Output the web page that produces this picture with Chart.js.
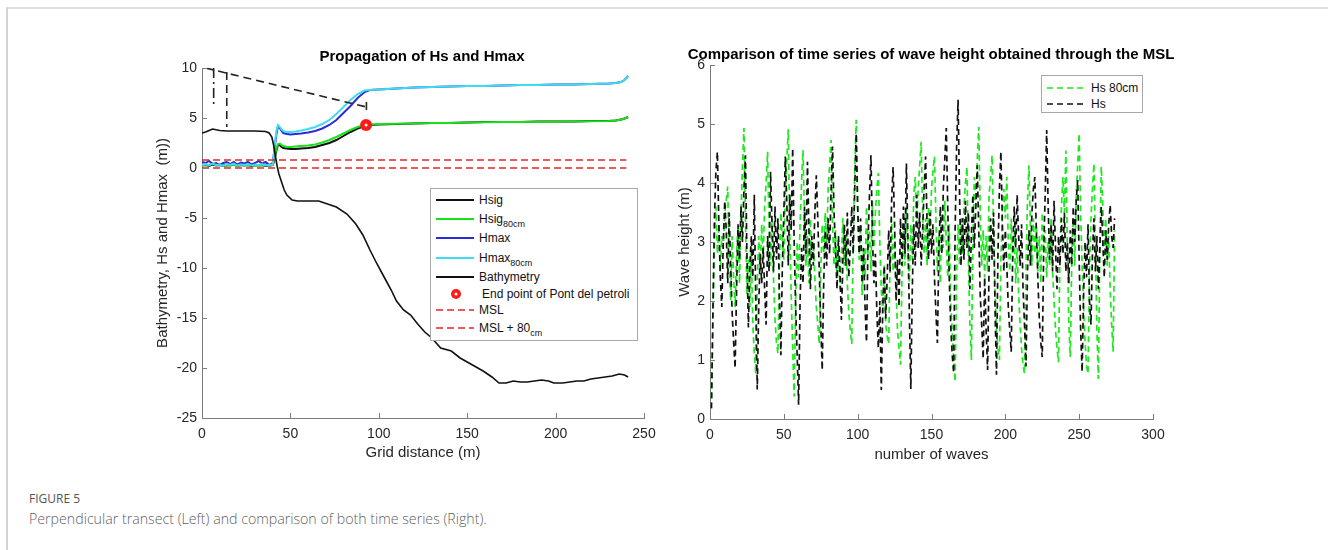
<!DOCTYPE html>
<html>
<head>
<meta charset="utf-8">
<script src="https://cdn.jsdelivr.net/npm/chart.js@4.4.1/dist/chart.umd.min.js"></script>
<style>
  body { margin: 0; background: #fff; width: 1328px; height: 550px; overflow: hidden; position: relative; font-family: "Liberation Sans", Arial, sans-serif; }
  .frame { position: absolute; left: 6px; top: 7px; right: -10px; bottom: -10px; border-top: 2px solid #dedede; border-left: 2px solid #d4d4d4; }
  canvas { position: absolute; }
  #left { left: 140px; top: 30px; }
  #right { left: 662px; top: 30px; }
  .legend { position: absolute; background: #fff; border: 1px solid #a8a8a8; font-size: 12px; color: #111; box-sizing: border-box; }
  .legend .row { position: absolute; left: 0; right: 0; height: 16px; line-height: 16px; white-space: nowrap; }
  .legend svg { position: absolute; left: 0; top: 0; }
  .legend span { position: absolute; top: 0; }
  .legend sub { font-size: 9px; vertical-align: -4px; line-height: 0; }
  .fig-num { position: absolute; left: 29px; top: 490px; font-family: "Open Sans", sans-serif; font-size: 12px; color: #555; }
  .fig-cap { position: absolute; left: 29px; top: 509px; font-family: "Open Sans", sans-serif; font-weight: 300; font-size: 14.2px; color: #5f5f5f; }
</style>
</head>
<body>
<div class="frame"></div>
<canvas id="left" width="564" height="440"></canvas>
<canvas id="right" width="538" height="440"></canvas>
<div class="legend" id="leftLegend" style="left:430px; top:188px; width:208px; height:153px;"></div>
<div class="legend" id="rightLegend" style="left:1041px; top:75px; width:102px; height:38px;"></div>
<div class="fig-num">FIGURE 5</div>
<div class="fig-cap">Perpendicular transect (Left) and comparison of both time series (Right).</div>
<script>
// =========================
// ======= DATA (left) ======
//==========================

// grid distance (m) for the wave height curves
const gridX = [0, 2, 4, 6, 8, 10, 12, 14, 16, 18,
  20, 22, 24, 26, 28, 30, 32, 34, 36, 38,
  40, 41, 42, 43, 44, 45, 46, 48, 50, 53,
  56, 60, 64, 68, 72, 76, 80, 84, 88, 92,
  95, 100, 110, 120, 130, 140, 150, 160, 170, 180,
  190, 200, 210, 220, 230, 234, 237, 239, 241];

const hsig = [0.25, 0.3, 0.2, 0.35, 0.25, 0.3, 0.2, 0.3, 0.25, 0.35,
  0.2, 0.3, 0.25, 0.3, 0.2, 0.3, 0.25, 0.3, 0.2, 0.25,
  0.3, 0.8, 1.7, 2.3, 2.3, 2.1, 2.0, 1.95, 1.9, 1.9,
  1.95, 2.0, 2.1, 2.3, 2.5, 2.8, 3.2, 3.6, 3.95, 4.2,
  4.3, 4.35, 4.4, 4.45, 4.5, 4.5, 4.55, 4.6, 4.6, 4.6,
  4.65, 4.65, 4.65, 4.7, 4.7, 4.75, 4.85, 4.95, 5.1];

const hsig80 = [0.2, 0.35, 0.3, 0.45, 0.25, 0.4, 0.3, 0.2, 0.35, 0.3,
  0.2, 0.4, 0.3, 0.25, 0.35, 0.2, 0.3, 0.25, 0.35, 0.2,
  0.3, 1.0, 1.9, 2.4, 2.45, 2.3, 2.2, 2.1, 2.1, 2.15,
  2.2, 2.25, 2.35, 2.55, 2.8, 3.1, 3.45, 3.8, 4.1, 4.3,
  4.35, 4.4, 4.42, 4.45, 4.5, 4.5, 4.55, 4.57, 4.6, 4.6,
  4.62, 4.63, 4.65, 4.68, 4.7, 4.75, 4.85, 4.95, 5.1];

const hmax = [0.6, 0.5, 0.7, 0.4, 0.5, 0.3, 0.5, 0.6, 0.4, 0.6,
  0.35, 0.55, 0.45, 0.6, 0.35, 0.5, 0.7, 0.45, 0.6, 0.3,
  0.5, 1.8, 3.3, 4.2, 4.0, 3.7, 3.5, 3.4, 3.35, 3.4,
  3.45, 3.55, 3.7, 3.95, 4.3, 4.8, 5.5, 6.2, 7.0, 7.6,
  7.8, 7.85, 7.95, 8.05, 8.1, 8.15, 8.2, 8.2, 8.25, 8.3,
  8.3, 8.35, 8.35, 8.4, 8.45, 8.5, 8.6, 8.8, 9.2];

const hmax80 = [0.3, 0.4, 0.25, 0.45, 0.3, 0.35, 0.2, 0.4, 0.3, 0.45,
  0.25, 0.35, 0.3, 0.4, 0.25, 0.35, 0.3, 0.4, 0.25, 0.3,
  0.35, 2.0, 3.6, 4.3, 4.1, 3.85, 3.7, 3.6, 3.6, 3.65,
  3.75, 3.9, 4.1, 4.4, 4.8, 5.4, 6.1, 6.8, 7.4, 7.75,
  7.8, 7.85, 7.95, 8.05, 8.1, 8.15, 8.2, 8.2, 8.25, 8.3,
  8.3, 8.35, 8.35, 8.4, 8.45, 8.5, 8.6, 8.8, 9.2];

const bathyX = [0, 2, 6, 10, 14, 20, 30, 36, 38, 39.5,
  40.5, 41.5, 42.5, 43.5, 45, 46.5, 48, 51, 54, 60,
  66, 71, 76, 82, 87, 91, 95, 99, 103, 107,
  110, 114, 118, 122, 126, 130, 135, 141, 146, 152,
  159, 164, 168, 172, 176, 180, 184, 188, 192, 196,
  199, 204, 208, 212, 216, 220, 224, 228, 232, 236,
  239, 241];

const bathy = [3.5, 3.6, 3.9, 3.75, 3.7, 3.7, 3.7, 3.65, 3.5, 3.1,
  2.3, 1.2, 0.2, -0.6, -1.4, -2.2, -2.7, -3.2, -3.3, -3.3,
  -3.3, -3.6, -3.9, -4.6, -5.6, -6.7, -8.2, -9.6, -10.9, -12.2,
  -13.3, -14.2, -14.7, -15.6, -16.4, -17.0, -18.0, -18.3, -19.0, -19.6,
  -20.3, -20.9, -21.5, -21.5, -21.3, -21.4, -21.4, -21.3, -21.2, -21.3,
  -21.5, -21.5, -21.4, -21.3, -21.3, -21.1, -21.0, -20.9, -20.8, -20.6,
  -20.7, -20.9];

// end point of Pont del petroli
const pontX = [92.8];
const pontY = [4.3];

// sea levels: MSL and MSL + 80 cm
const levelX = [0, 240];
const msl = [0, 0];
const msl80 = [0.8, 0.8];

// black dashed guide lines in the upper left corner
const slopeX = [2, 93];
const slopeY = [10, 6.1];
const endTickX = [93, 93];
const endTickY = [6.6, 5.5];
const guide1X = [6.6, 6.6];
const guide1Y = [10, 6.0];
const guide2X = [14, 14];
const guide2Y = [9.6, 4.1];

const leftXTicks = { min: 0, max: 250, step: 50 };
const leftYTicks = { min: -25, max: 10, step: 5 };

// =========================
// ======= DATA (right) =====
//==========================

const waveHs80 = [0.35, 1.6, 3.0, 3.6, 2.8, 3.3, 2.5, 3.1, 2.9, 3.5,
  3.7, 3.94, 2.6, 2.0, 3.1, 2.4, 1.9, 2.8, 3.3, 2.3,
  3.5, 4.3, 4.93, 3.4, 2.1, 2.7, 1.9, 2.9, 1.6, 1.1,
  0.77, 2.3, 3.1, 2.5, 3.3, 2.7, 3.6, 4.0, 4.53, 3.2,
  2.6, 3.4, 2.4, 1.7, 1.3, 1.11, 2.6, 3.5, 3.0, 2.7,
  3.8, 4.4, 4.91, 3.2, 2.1, 1.2, 0.38, 2.0, 3.0, 2.4,
  3.3, 4.0, 4.56, 3.4, 2.6, 3.1, 2.3, 3.4, 2.7, 3.0,
  2.4, 1.9, 1.6, 1.27, 2.5, 3.3, 2.8, 3.5, 2.9, 3.9,
  4.3, 4.73, 3.3, 2.6, 3.2, 2.4, 3.0, 2.2, 2.8, 3.4,
  2.6, 3.1, 2.3, 1.8, 1.5, 1.27, 3.1, 4.2, 5.07, 3.6,
  2.7, 3.3, 2.1, 2.9, 2.4, 3.6, 2.8, 3.2, 2.5, 3.7,
  2.9, 3.5, 3.9, 4.17, 3.0, 2.2, 1.8, 2.6, 1.6, 1.4,
  1.27, 2.8, 3.4, 2.5, 3.1, 2.2, 1.5, 1.2, 0.92, 2.4,
  3.2, 2.6, 3.6, 2.9, 2.3, 3.3, 2.7, 3.8, 4.1, 3.3,
  3.9, 4.3, 4.7, 3.5, 2.8, 3.4, 2.6, 3.6, 3.0, 3.9,
  4.2, 4.45, 3.4, 2.5, 3.1, 2.3, 3.5, 2.9, 3.7, 3.0,
  2.4, 3.3, 2.0, 1.5, 1.0, 0.63, 2.4, 3.3, 2.6, 3.4,
  2.8, 3.6, 4.0, 4.27, 2.7, 1.6, 1.0, 2.9, 4.1, 3.6,
  4.4, 4.95, 3.5, 2.6, 3.2, 2.4, 3.1, 2.5, 3.8, 4.1,
  4.47, 3.3, 2.2, 1.5, 1.2, 1.0, 2.7, 3.5, 3.9, 3.4,
  4.1, 3.0, 2.5, 3.4, 2.7, 3.2, 2.3, 2.9, 2.1, 1.6,
  1.2, 0.9, 0.77, 2.6, 3.7, 4.3, 3.2, 2.6, 3.4, 2.8,
  3.3, 2.5, 3.1, 2.3, 3.5, 2.8, 3.2, 2.4, 3.0, 2.6,
  3.4, 2.5, 2.0, 1.5, 1.2, 0.96, 2.8, 3.6, 4.1, 3.5,
  4.55, 2.9, 1.6, 1.05, 2.7, 3.4, 2.6, 3.8, 4.3, 4.84,
  3.5, 2.6, 1.9, 1.3, 0.9, 0.77, 2.5, 3.4, 3.9, 4.33,
  3.0, 1.5, 0.68, 2.9, 4.28, 3.6, 2.9, 3.4, 2.6, 3.1,
  2.2, 1.6, 1.14, 3.2];

const waveHs = [0.18, 1.9, 3.4, 4.2, 4.53, 3.3, 2.4, 1.9, 3.0, 3.7,
  3.2, 2.3, 3.5, 2.6, 1.8, 1.3, 0.86, 2.2, 3.3, 2.7,
  3.6, 3.0, 3.9, 4.47, 2.8, 1.55, 2.6, 3.1, 2.4, 3.8,
  2.0, 0.5, 1.9, 2.8, 2.3, 2.9, 2.2, 1.6, 3.1, 2.5,
  4.19, 3.3, 2.5, 3.6, 2.7, 3.4, 2.1, 1.08, 2.6, 3.5,
  4.45, 3.7, 2.6, 3.8, 3.2, 4.59, 3.0, 1.9, 1.1, 0.24,
  2.0, 2.9, 2.3, 3.6, 2.8, 4.36, 3.2, 2.2, 3.1, 2.6,
  3.5, 4.13, 3.4, 2.5, 1.6, 0.83, 2.3, 3.2, 2.6, 3.4,
  2.8, 3.9, 4.62, 3.5, 2.9, 2.2, 3.1, 2.5, 1.68, 2.7,
  3.3, 2.6, 3.5, 2.4, 2.9, 3.6, 2.8, 3.9, 4.84, 3.6,
  2.8, 3.4, 2.3, 2.9, 1.9, 1.3, 3.0, 3.8, 4.47, 3.1,
  2.3, 2.8, 1.8, 1.2, 2.0, 0.49, 1.9, 2.6, 1.7, 2.4,
  3.2, 2.5, 3.7, 4.27, 3.3, 2.0, 2.7, 1.9, 3.4, 2.6,
  3.6, 2.8, 4.33, 3.1, 1.8, 0.51, 2.2, 3.3, 2.6, 3.8,
  2.9, 3.5, 2.6, 3.2, 3.9, 4.45, 3.3, 2.7, 3.5, 2.8,
  3.3, 2.4, 1.8, 1.29, 2.9, 3.6, 2.8, 3.9, 4.4, 4.93,
  3.6, 2.4, 1.6, 1.1, 0.78, 3.2, 4.6, 5.41, 3.8, 2.6,
  3.4, 2.7, 3.7, 2.9, 3.5, 2.2, 3.1, 3.8, 2.9, 3.6,
  4.3, 3.2, 2.1, 1.6, 1.02, 2.4, 1.5, 0.83, 2.6, 3.4,
  2.7, 3.5, 1.9, 0.75, 2.8, 3.9, 4.53, 3.3, 2.5, 3.2,
  2.6, 1.9, 1.5, 1.14, 2.8, 3.6, 2.9, 3.8, 3.1, 2.6,
  3.3, 2.2, 1.6, 0.89, 2.5, 3.2, 2.6, 3.5, 3.9, 4.1,
  3.2, 2.4, 1.7, 1.3, 1.05, 2.9, 3.8, 4.9, 3.6, 2.7,
  3.3, 2.5, 3.7, 2.9, 2.2, 3.1, 2.6, 3.4, 2.8, 3.5,
  2.5, 3.0, 2.3, 3.2, 2.6, 3.6, 3.0, 3.7, 4.05, 2.7,
  1.5, 0.8, 2.1, 3.0, 2.4, 3.3, 2.0, 1.6, 2.8, 3.4,
  2.5, 3.1, 2.2, 2.9, 3.6, 3.0, 2.4, 3.2, 2.7, 3.3,
  3.63, 3.1, 2.9, 3.4];

const rightXTicks = { min: 0, max: 300, step: 50 };
const rightYTicks = { min: 0, max: 6, step: 1 };

// =========================
// ======= HELPERS ==========
//==========================

const fontFamily = "'Liberation Sans', Arial, Helvetica, sans-serif";
const axisColor = "#7c7c7c";
const tickColor = "#262626";

function toPoints(xs, ys) {
  return xs.map(function(x, i) {
    return { x: x, y: ys[i] };
  });
}

function indexPoints(ys) {
  return ys.map(function(y, i) {
    return { x: i + 1, y: y };
  });
}

function line(data, color, width, dash, order) {
  return {
    data: data,
    borderColor: color,
    backgroundColor: color,
    borderWidth: width,
    borderDash: dash || [],
    pointRadius: 0,
    tension: 0,
    fill: false,
    order: order
  };
}

// MATLAB style tick marks pointing into the plot
const inwardTicks = {
  id: "inwardTicks",
  afterDatasetsDraw(chart) {
    const ctx = chart.ctx;
    const area = chart.chartArea;
    const xs = chart.scales.x;
    const ys = chart.scales.y;
    ctx.save();
    ctx.strokeStyle = axisColor;
    ctx.lineWidth = 1;
    ctx.beginPath();
    xs.ticks.forEach(function(t) {
      const p = Math.round(xs.getPixelForValue(t.value)) + 0.5;
      ctx.moveTo(p, area.bottom);
      ctx.lineTo(p, area.bottom - 5);
    });
    ys.ticks.forEach(function(t) {
      const p = Math.round(ys.getPixelForValue(t.value)) + 0.5;
      ctx.moveTo(area.left, p);
      ctx.lineTo(area.left + 5, p);
    });
    ctx.stroke();
    ctx.restore();
  }
};

function options(cfg) {
  return {
    responsive: false,
    animation: false,
    events: [],
    layout: { padding: 0 },
    plugins: {
      legend: { display: false },
      tooltip: { enabled: false },
      title: {
        display: true,
        text: cfg.title,
        color: "#000",
        font: { family: fontFamily, size: 15, weight: "bold" },
        padding: { top: cfg.titleTop, bottom: cfg.titleBottom }
      }
    },
    scales: {
      x: {
        type: "linear",
        min: cfg.xTicks.min,
        max: cfg.xTicks.max,
        ticks: { stepSize: cfg.xTicks.step, color: tickColor, font: { family: fontFamily, size: 14 }, padding: 8, maxRotation: 0 },
        grid: { display: false, drawTicks: false },
        border: { display: true, color: axisColor, width: 1 },
        title: { display: true, text: cfg.xTitle, color: "#262626", font: { family: fontFamily, size: 15 }, padding: { top: 0, bottom: cfg.xTitlePad } },
        afterFit: function(s) { s.height = cfg.xHeight; }
      },
      y: {
        type: "linear",
        min: cfg.yTicks.min,
        max: cfg.yTicks.max,
        ticks: { stepSize: cfg.yTicks.step, color: tickColor, font: { family: fontFamily, size: 14 }, padding: 5 },
        grid: { display: false, drawTicks: false },
        border: { display: true, color: axisColor, width: 1 },
        title: { display: true, text: cfg.yTitle, color: "#262626", font: { family: fontFamily, size: 15 }, padding: { top: cfg.yTitlePad, bottom: 0 } },
        afterFit: function(s) { s.width = cfg.yWidth; }
      },
      pad: {
        position: "right",
        display: true,
        ticks: { display: false },
        grid: { display: false, drawTicks: false },
        border: { display: false },
        afterFit: function(s) { s.width = cfg.rightWidth; }
      }
    }
  };
}

// =========================
// ======= LEFT CHART =======
//==========================

const red = "#ff1a1a";
const leftDatasets = [
  line(toPoints(gridX, hsig), "#111", 2, null, 9),
  line(toPoints(gridX, hsig80), "#19e019", 2, null, 8),
  line(toPoints(gridX, hmax), "#2b2bd6", 2, null, 7),
  line(toPoints(gridX, hmax80), "#3fdcf0", 2, null, 6),
  line(toPoints(bathyX, bathy), "#111", 1.6, null, 5),
  line(toPoints(levelX, msl), "#e3262b", 1.6, [7, 4], 4),
  line(toPoints(levelX, msl80), "#e3262b", 1.6, [7, 4], 4),
  line(toPoints(slopeX, slopeY), "#222", 1.6, [8, 5], 4),
  line(toPoints(endTickX, endTickY), "#222", 1.6, [8, 5], 4),
  line(toPoints(guide1X, guide1Y), "#222", 1.6, [10, 4, 2, 4], 4),
  line(toPoints(guide2X, guide2Y), "#222", 1.6, [8, 5], 4),
  {
    data: toPoints(pontX, pontY),
    showLine: false,
    pointRadius: 6,
    pointBackgroundColor: red,
    pointBorderWidth: 0,
    order: 1
  },
  {
    data: toPoints(pontX, pontY),
    showLine: false,
    pointRadius: 1.5,
    pointBackgroundColor: "#e9ffe9",
    pointBorderWidth: 0,
    order: 0
  }
];

new Chart(document.getElementById("left"), {
  type: "line",
  data: { datasets: leftDatasets },
  options: options({
    title: "Propagation of Hs and Hmax",
    titleTop: 18, titleBottom: 2,
    xTicks: leftXTicks, yTicks: leftYTicks,
    xTitle: "Grid distance (m)", xTitlePad: 8, xHeight: 52,
    yTitle: "Bathymetry, Hs and Hmax  (m))", yTitlePad: 14, yWidth: 62,
    rightWidth: 60
  }),
  plugins: [inwardTicks]
});

// =========================
// ======= RIGHT CHART ======
//==========================

new Chart(document.getElementById("right"), {
  type: "line",
  data: {
    datasets: [
      line(indexPoints(waveHs80), "#1ee81e", 1.7, [6, 4], 1),
      line(indexPoints(waveHs), "#111", 1.7, [6, 4], 0)
    ]
  },
  options: options({
    title: "Comparison of time series of wave height obtained through the MSL",
    titleTop: 16, titleBottom: 1,
    xTicks: rightXTicks, yTicks: rightYTicks,
    xTitle: "number of waves", xTitlePad: 6, xHeight: 51,
    yTitle: "Wave height (m)", yTitlePad: 14, yWidth: 48,
    rightWidth: 47
  }),
  plugins: [inwardTicks]
});

// =========================
// ======= LEGENDS ==========
//==========================

function buildLegend(el, entries) {
  entries.forEach(function(e) {
    const row = document.createElement("div");
    row.className = "row";
    row.style.top = (e.y - 8) + "px";
    let sample;
    if (e.marker) {
      sample = '<circle cx="' + e.mx + '" cy="8" r="5" fill="' + red + '"/>' +
        '<circle cx="' + e.mx + '" cy="8" r="1.5" fill="#fff"/>';
    } else {
      sample = '<line x1="' + e.x1 + '" y1="8" x2="' + e.x2 + '" y2="8" stroke="' + e.color +
        '" stroke-width="' + (e.w || 2) + '"' + (e.dash ? ' stroke-dasharray="' + e.dash + '"' : "") + "/>";
    }
    row.innerHTML = '<svg width="60" height="16">' + sample + "</svg>" +
      '<span style="left:' + e.tx + 'px">' + e.text + (e.sub ? "<sub>" + e.sub + "</sub>" : "") + "</span>";
    el.appendChild(row);
  });
}

buildLegend(document.getElementById("leftLegend"), [
  { text: "Hsig", color: "#111", x1: 5, x2: 43, tx: 48, y: 11 },
  { text: "Hsig", sub: "80cm", color: "#19e019", x1: 5, x2: 43, tx: 48, y: 29.5 },
  { text: "Hmax", color: "#2b2bd6", x1: 5, x2: 43, tx: 48, y: 49 },
  { text: "Hmax", sub: "80cm", color: "#3fdcf0", x1: 5, x2: 43, tx: 48, y: 68.5 },
  { text: "Bathymetry", color: "#111", x1: 5, x2: 43, tx: 48, y: 88 },
  { text: "End point of Pont del petroli", marker: true, mx: 25, tx: 51, y: 104.5 },
  { text: "MSL", color: "#e3262b", x1: 5, x2: 43, tx: 48, y: 120.5, w: 1.6, dash: "7,4" },
  { text: "MSL + 80", sub: "cm", color: "#e3262b", x1: 5, x2: 43, tx: 48, y: 138.5, w: 1.6, dash: "7,4" }
]);

buildLegend(document.getElementById("rightLegend"), [
  { text: "Hs 80cm", color: "#1ee81e", x1: 5, x2: 45, tx: 49, y: 11.5, w: 1.6, dash: "6,4" },
  { text: "Hs", color: "#111", x1: 5, x2: 45, tx: 49, y: 28, w: 1.6, dash: "6,4" }
]);
</script>
</body>
</html>
